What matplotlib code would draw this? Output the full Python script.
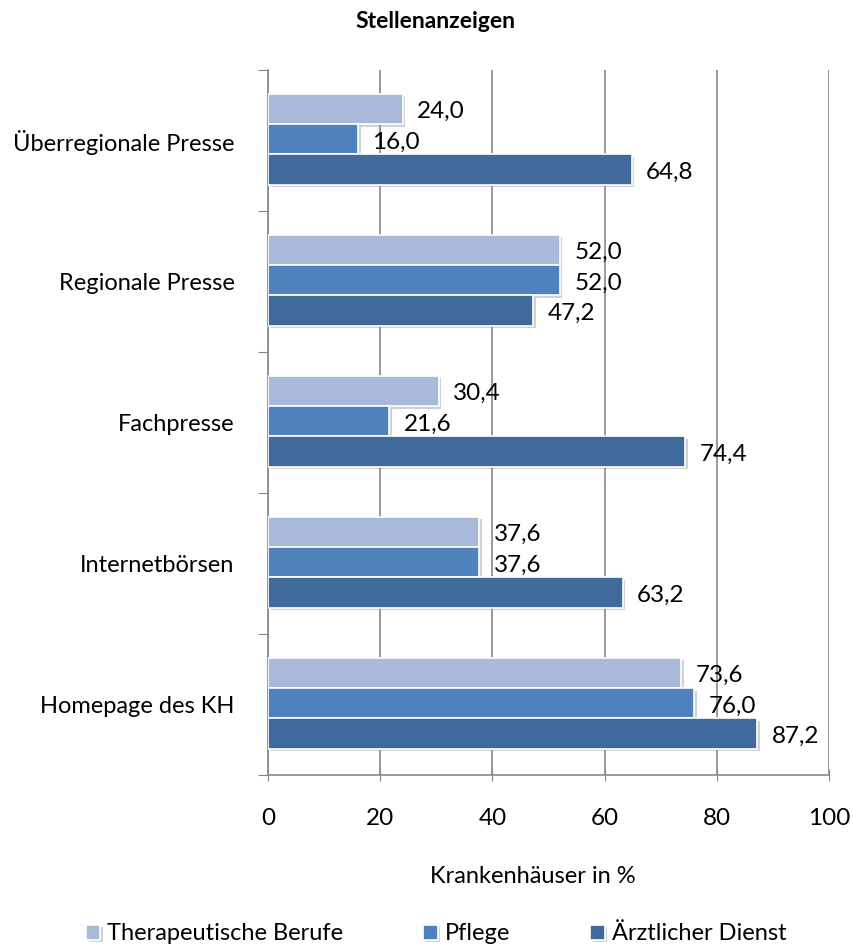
import matplotlib
matplotlib.use("Agg")
import matplotlib.pyplot as plt
import matplotlib.patheffects as pe
import numpy as np

categories = ["Überregionale Presse", "Regionale Presse", "Fachpresse", "Internetbörsen", "Homepage des KH"]
series_names = ["Therapeutische Berufe", "Pflege", "Ärztlicher Dienst"]
therapeutisch = [24.0, 52.0, 30.4, 37.6, 73.6]
pflege = [16.0, 52.0, 21.6, 37.6, 76.0]
aerztlich = [64.8, 47.2, 74.4, 63.2, 87.2]
colors = ["#A9B9D9", "#4F81BD", "#406A9B"]
xticks = [0, 20, 40, 60, 80, 100]

plt.rcParams['font.family'] = ['Lato', 'DejaVu Sans']
FS = 17

fig = plt.figure(figsize=(8.54, 9.49), dpi=100)
ax = fig.add_axes([268/854, 1-775/949, 561/854, 705/949])

n = len(categories)
ypos = np.arange(n)[::-1]  # top category at top
h = 0.215
offsets = [h, 0, -h]
series = [therapeutisch, pflege, aerztlich]
for s, vals, off, c in zip(series_names, series, offsets, colors):
    bars = ax.barh(ypos + off + 0.01, vals, height=h, color=c, edgecolor="white",
                   linewidth=1.2, label=s, zorder=3)
    for b in bars:
        b.set_path_effects([pe.SimplePatchShadow(offset=(2, -2), shadow_rgbFace="#999999", alpha=0.45),
                            pe.Normal()])
    for v, y in zip(vals, ypos + off + 0.01):
        ax.text(v + 2.6, y - 0.02, f"{v:.1f}".replace(".", ","), va="center", ha="left",
                fontsize=FS + 0.5, color="black", zorder=4)

ax.set_xlim(0, 100)
ax.set_ylim(-0.5, n - 0.5)
ax.set_xticks(xticks)
ax.set_xticklabels([str(t) for t in xticks], fontsize=FS + 0.5)
ax.set_yticks([y - 0.5 for y in range(n + 1)], minor=False)
ax.set_yticklabels([])
ax.set_yticks(ypos, minor=True)
ax.set_yticklabels(categories, minor=True, fontsize=FS)
ax.tick_params(axis="y", which="minor", length=0, pad=24)
ax.tick_params(axis="y", which="major", length=7, color="#888888", direction="out")
ax.tick_params(axis="x", length=8, color="#888888", direction="inout", pad=20)
ax.grid(axis="x", color="#888888", linewidth=1.2, zorder=0)
for sp in ["top", "right"]:
    ax.spines[sp].set_visible(False)
for sp in ["left", "bottom"]:
    ax.spines[sp].set_color("#888888")
    ax.spines[sp].set_linewidth(1.2)

ax.set_xlabel("Krankenhäuser in %", fontsize=FS, labelpad=20)
ax.xaxis.set_label_coords(533/854 - 268/854, ax.xaxis.label.get_position()[1])
ax.xaxis.label.set_transform(fig.transFigure)
ax.xaxis.label.set_position((533/854, 1-866/949))
fig.text(435/854, 1-22/949, "Stellenanzeigen", ha="center", va="center", fontsize=16.5, fontweight="bold")

handles, labels = ax.get_legend_handles_labels()
fig.legend(handles, labels, loc="center", bbox_to_anchor=(436/854, 1-934/949), ncol=3,
           frameon=False, fontsize=FS, handlelength=0.6, handleheight=0.6,
           handletextpad=0.3, columnspacing=3.4)

fig.savefig("out.png", dpi=100)
